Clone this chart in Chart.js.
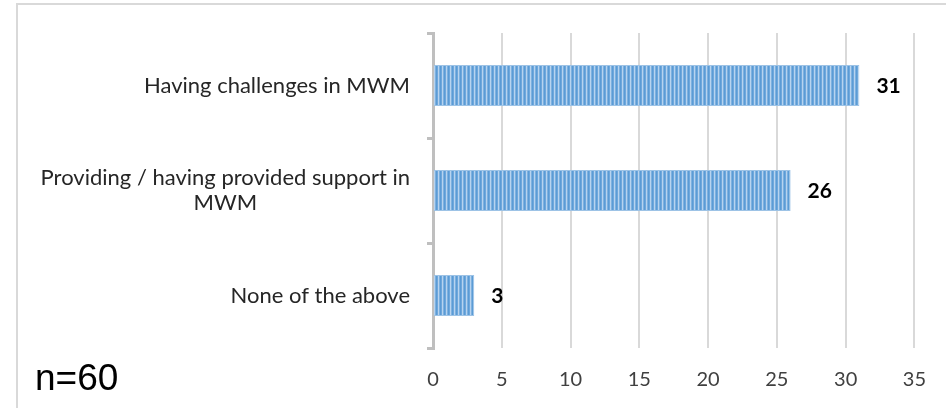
<!DOCTYPE html>
<html>
<head>
<meta charset="utf-8">
<script src="https://cdn.jsdelivr.net/npm/chart.js@4"></script>
<style>
  html, body { margin: 0; padding: 0; background: #fff; overflow: hidden; }
  #wrap { position: relative; width: 946px; height: 408px; }
  #frame { position: absolute; left: 16px; top: 3px; width: 960px; height: 430px;
           border-left: 2px solid #d9d9d9; border-top: 2px solid #d9d9d9; pointer-events: none; }
  canvas { position: absolute; left: 0; top: 0; }
</style>
</head>
<body>
<div id="wrap">
  <canvas id="chartCanvas" width="946" height="408"></canvas>
  <div id="frame"></div>
</div>
<script>
const categories = [
  ["Having challenges in MWM"],
  ["Providing / having provided support in", "MWM"],
  ["None of the above"]
];
const counts = [31, 26, 3];
const xTicks = [0, 5, 10, 15, 20, 25, 30, 35];
const sampleNote = "n=60";

const labelFont = "Lato, 'Open Sans', sans-serif";

// striped fill like the original bars
function stripePattern() {
  const c = document.createElement("canvas");
  c.width = 4; c.height = 4;
  const g = c.getContext("2d");
  const cols = ["#5b9bd5", "#6fa8dc", "#b7d3ef", "#7db1e0"];
  cols.forEach((col, i) => { g.fillStyle = col; g.fillRect(i, 0, 1, 4); });
  return g.createPattern(c, "repeat");
}

const extras = {
  id: "extras",
  afterDraw(chart) {
    const ctx = chart.ctx;
    const y = chart.scales.y;
    const x = chart.scales.x;
    ctx.save();
    // category labels, lines centred on each other, block right aligned
    ctx.font = "22px " + labelFont;
    ctx.fillStyle = "#262626";
    ctx.textBaseline = "middle";
    ctx.textAlign = "center";
    const right = 410;
    categories.forEach((lines, i) => {
      const w = Math.max(...lines.map(l => ctx.measureText(l).width));
      const cx = right - w / 2;
      const cy = y.getPixelForValue(i);
      const lh = 25;
      lines.forEach((l, j) => {
        ctx.fillText(l, cx, cy + (j - (lines.length - 1) / 2) * lh);
      });
    });
    // value labels
    ctx.font = "bold 21px " + labelFont;
    ctx.fillStyle = "#000";
    ctx.textAlign = "left";
    counts.forEach((v, i) => {
      ctx.fillText(String(v), x.getPixelForValue(v) + 17, y.getPixelForValue(i) + 1);
    });
    // sample size note
    ctx.font = "37px 'Liberation Sans', Arial, sans-serif";
    ctx.textBaseline = "alphabetic";
    ctx.fillStyle = "#000";
    ctx.fillText(sampleNote, 35, 390);
    ctx.restore();
  }
};

new Chart(document.getElementById("chartCanvas").getContext("2d"), {
  type: "bar",
  data: {
    labels: categories,
    datasets: [{
      data: counts,
      backgroundColor: stripePattern(),
      borderColor: "#9dc3e6",
      borderWidth: 1,
      borderSkipped: "left",
      barPercentage: 0.39,
      categoryPercentage: 1
    }]
  },
  options: {
    indexAxis: "y",
    responsive: false,
    animation: false,
    layout: { padding: { top: 33, right: 30, left: 0, bottom: 0 } },
    plugins: { legend: { display: false }, tooltip: { enabled: false } },
    scales: {
      x: {
        min: 0,
        max: 35,
        afterBuildTicks: s => { s.ticks = xTicks.map(v => ({ value: v })); },
        afterFit: s => { s.height = 60; },
        grid: { color: "#d9d9d9", lineWidth: 2, drawTicks: false },
        border: { display: false },
        ticks: { padding: 20, color: "#404040", font: { size: 20, family: labelFont } }
      },
      y: {
        offset: true,
        afterFit: s => { s.width = 433; },
        grid: { offset: true, drawOnChartArea: false, tickLength: 6, color: "#bfbfbf", lineWidth: 3 },
        border: { color: "#bfbfbf", width: 3 },
        ticks: { color: "rgba(0,0,0,0)", font: { size: 20, family: labelFont } }
      }
    }
  },
  plugins: [extras]
});
</script>
</body>
</html>
